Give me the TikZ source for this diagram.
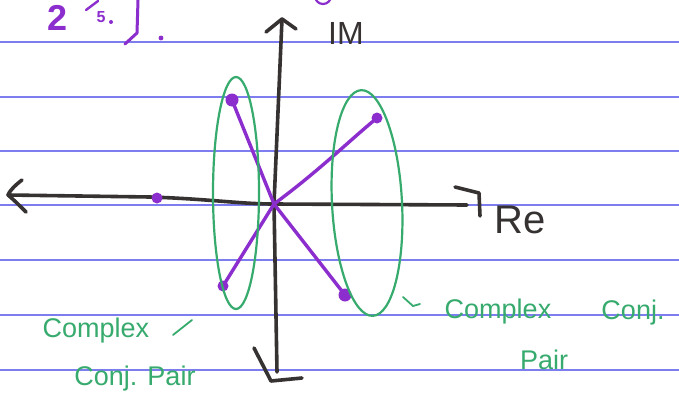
\documentclass[tikz,border=0pt]{standalone}
\usepackage{fontspec}
\setmainfont{Liberation Sans}
\definecolor{ruleblue}{RGB}{125,125,240}
\definecolor{pen}{RGB}{55,50,50}
\definecolor{violet}{RGB}{140,45,205}
\definecolor{mint}{RGB}{55,170,110}
\tikzset{
  ruling/.style={ruleblue, line width=1.6pt},
  axis/.style={pen, line width=3.6pt, line cap=round, line join=round},
  ray/.style={violet, line width=3.4pt, line cap=round},
  dot/.style={violet, fill=violet},
  loop/.style={mint, line width=2.2pt},
  note/.style={mint, inner sep=0pt, font=\fontsize{27}{30}\selectfont},
  axlabel/.style={pen, inner sep=0pt},
}
\begin{document}
\begin{tikzpicture}[x=1pt,y=-1pt]
\useasboundingbox (0,0) rectangle (679,412);
\clip (0,0) rectangle (679,412);
\fill[white] (0,0) rectangle (679,412);
% ruled lines
\foreach \yy in {42,97,151,205,260,315,370}
  \draw[ruling] (0,\yy) -- (679,\yy);
% top-left purple fragment
\node[violet, inner sep=0pt, font=\fontsize{36}{40}\selectfont\bfseries] (two) at (58,18) {2};
\node[violet, inner sep=0pt, font=\fontsize{16}{18}\selectfont\bfseries] (five) at (101,17) {5};
\draw[violet, line width=2.4pt, line cap=round] (86,10) -- (98,1);
\fill[violet] (111,22) circle (2);
\draw[violet, line width=3pt, line cap=round, line join=round] (138,0) -- (137,33) -- (125,44);
\fill[violet] (161,38) circle (2.4);
\draw[violet, line width=2.2pt] (323,-4) circle (8);
% named points
\coordinate (O) at (274,204);
\coordinate (ul) at (232,100);
\coordinate (ll) at (223,286);
\coordinate (ur) at (377,118);
\coordinate (lr) at (345,295);
\coordinate (neg) at (157,198);
% axes
\coordinate (xl) at (8,195);
\coordinate (xr) at (467,205);
\coordinate (yt) at (282,19);
\coordinate (yb) at (277,372);
\draw[axis] (xl) -- (150,197) .. controls (210,199) and (240,204) .. (O) -- (xr);
\draw[axis] (yt) -- (O) -- (yb);
\draw[axis] (22,180) .. controls (14,186) and (9,192) .. (xl) .. controls (14,200) and (20,206) .. (26,212);
\draw[axis] (455,187) -- (479,193) -- (480,216);
\draw[axis] (266,32) -- (yt) -- (296,29);
\draw[axis] (254,348) -- (271,381) -- (302,378);
\node[axlabel, font=\fontsize{32}{36}\selectfont] (im) at (346,33) {IM};
\node[axlabel, font=\fontsize{40}{44}\selectfont] (re) at (520,220) {Re};
% rays
\draw[ray] (O) -- (ul);
\draw[ray] (O) -- (ll);
\draw[ray] (O) .. controls (320,170) and (350,140) .. (ur);
\draw[ray] (O) -- (lr);
\foreach \p in {ul,lr} \fill[dot] (\p) circle (6.5);
\foreach \p in {ll,ur,neg} \fill[dot] (\p) circle (5.5);
% green loops
\draw[loop] (236,193) ellipse [x radius=23, y radius=116];
\draw[loop, rotate around={3:(367,203)}] (367,203) ellipse [x radius=35, y radius=113];
% notes
\node[note] (c1) at (96,331) {Complex};
\draw[mint, line width=1.8pt, line cap=round] (173,335) -- (192,320);
\node[note] (c2) at (135,379) {Conj. Pair};
\draw[mint, line width=1.8pt, line cap=round] (403,297) -- (413,306) -- (420,304);
\node[note] (c3) at (498,312) {Complex};
\node[note] (c4) at (633,313) {Conj.};
\node[note] (c5) at (544,360) {Pair};
\end{tikzpicture}
\end{document}
